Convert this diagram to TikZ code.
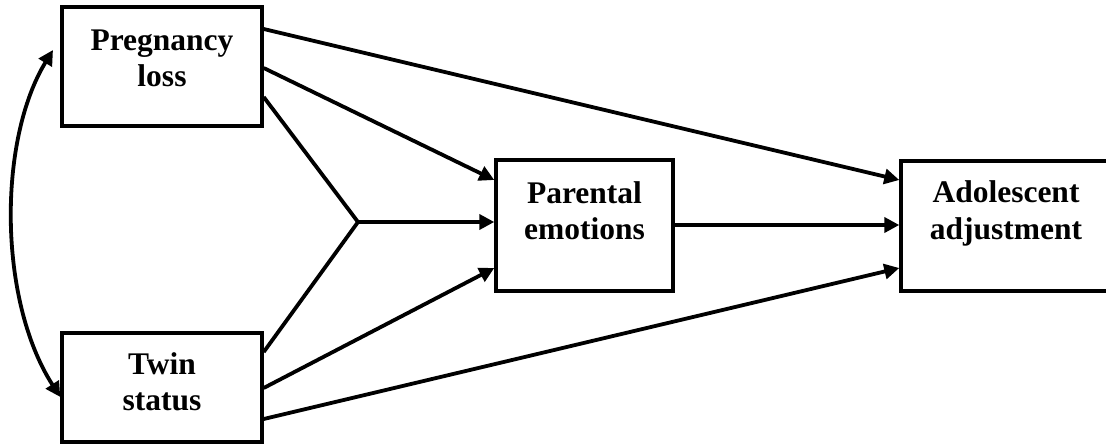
\documentclass[tikz,border=0pt]{standalone}
\usepackage{fontspec}
\setmainfont{Liberation Serif}
\usetikzlibrary{arrows.meta}
\begin{document}
\begin{tikzpicture}[x=1pt,y=-1pt,
  box/.style={draw,line width=3.4pt,align=center,inner sep=0pt,
    font=\fontsize{31.5}{36.5}\selectfont\bfseries},
  conn/.style={line width=3.8pt},
  arr/.style={conn,-{Triangle[length=15pt,width=15pt]}}
]
\useasboundingbox (0,0) rectangle (1106,444);
\node[box,minimum width=200pt,minimum height=119pt,text depth=17pt] (PL) at (162,66.5) {Pregnancy\\loss};
\node[box,minimum width=200pt,minimum height=109pt,text depth=12pt] (TS) at (162,387.5) {Twin\\status};
\node[box,minimum width=177pt,minimum height=131pt,text depth=30pt] (PE) at (584.5,225.5) {Parental\\emotions};
\node[box,minimum width=210pt,minimum height=130pt,text depth=32pt] (AA) at (1006,226) {Adolescent\\adjustment};
\coordinate (J) at (358,222);
\coordinate (c1) at (53,50);
\draw[arr] (PL.east |- 0,29) -- (AA.west |- 0,180);
\draw[arr] (PL.east |- 0,68) -- (PE.west |- 0,180);
\draw[conn] (PL.east |- 0,97) -- (J) -- (TS.east |- 0,352);
\draw[arr] (J) -- (PE.west |- 0,222);
\draw[arr] (TS.east |- 0,388) -- (PE.west |- 0,268);
\draw[arr] (TS.east |- 0,419) -- (AA.west |- 0,268);
\draw[arr] (PE.east |- 0,225) -- (AA.west |- 0,225);
\draw[conn,{Triangle[length=15pt,width=15pt]}-{Triangle[length=15pt,width=15pt]}] (c1) .. controls (-2,140) and (-2,300) .. (TS.west |- 0,397);
\end{tikzpicture}
\end{document}
